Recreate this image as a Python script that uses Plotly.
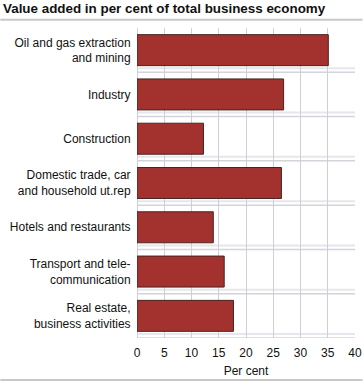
import plotly.graph_objects as go

categories = [
    "Oil and gas extraction<br>and mining",
    "Industry",
    "Construction",
    "Domestic trade, car<br>and household ut.rep",
    "Hotels and restaurants",
    "Transport and tele-<br>communication",
    "Real estate,<br>business activities",
]
values = [35.1, 26.9, 12.2, 26.5, 14.0, 16.0, 17.7]
x_ticks = [0, 5, 10, 15, 20, 25, 30, 35, 40]

W, H = 363, 383
L, R, T, B = 137, 7.5, 28, 45
pw = W - L - R
ph = H - T - B

FONT = "Liberation Sans, Arial, sans-serif"

fig = go.Figure()
fig.add_trace(go.Bar(
    x=values,
    y=list(range(len(categories))),
    orientation="h",
    width=0.7,
    marker=dict(color="#A3312D", line=dict(color="#4a2424", width=1)),
    hoverinfo="x",
))

shapes = []
for k in range(len(categories)):
    yb = k + 0.5
    shapes.append(dict(type="line", xref="paper", x0=0, x1=1, yref="y",
                       y0=yb - 0.09, y1=yb - 0.09,
                       line=dict(color="#e6e6ec", width=2), layer="below"))
    shapes.append(dict(type="line", xref="paper", x0=0, x1=1, yref="y",
                       y0=yb, y1=yb,
                       line=dict(color="#d4d4dc", width=1.5), layer="below"))
# header and footer rules
for ypx in (19.7, 380):
    yp = 1 - (ypx - T) / ph
    shapes.append(dict(type="line", xref="paper", x0=-L / pw, x1=(W - L) / pw,
                       yref="paper", y0=yp, y1=yp,
                       line=dict(color="#c8c8c8", width=2)))

fig.update_layout(
    width=W, height=H,
    margin=dict(l=L, r=R, t=T, b=B, pad=0, autoexpand=False),
    paper_bgcolor="white", plot_bgcolor="white",
    font=dict(family=FONT, size=12, color="#111111"),
    showlegend=False,
    title=dict(text="<b>Value added in per cent of total business economy</b>",
               xref="container", yref="container", x=3 / W, xanchor="left",
               y=1 - 8.5 / H, yanchor="middle",
               font=dict(family=FONT, size=13.4, color="#111111")),
    xaxis=dict(range=[0, 40], tickvals=x_ticks, ticktext=[str(v) for v in x_ticks],
               showgrid=True, gridcolor="#cfcfd8", gridwidth=1,
               zeroline=True, zerolinecolor="#cfcfd8", zerolinewidth=1,
               showline=False, ticks="outside", ticklen=4, tickcolor="rgba(0,0,0,0)",
               tickfont=dict(size=12), automargin=False,
               title=dict(text="Per cent", font=dict(size=12), standoff=7),
               fixedrange=True),
    yaxis=dict(range=[6.5, -0.5], tickvals=list(range(len(categories))),
               ticktext=categories, showgrid=False, zeroline=False, showline=False,
               ticks="outside", ticklen=3, tickcolor="rgba(0,0,0,0)",
               tickfont=dict(size=12), automargin=False, fixedrange=True),
    shapes=shapes,
)

fig.write_html("out.html", config={"displayModeBar": False},
               post_script="document.body.style.margin='0';document.body.style.overflow='hidden';")
